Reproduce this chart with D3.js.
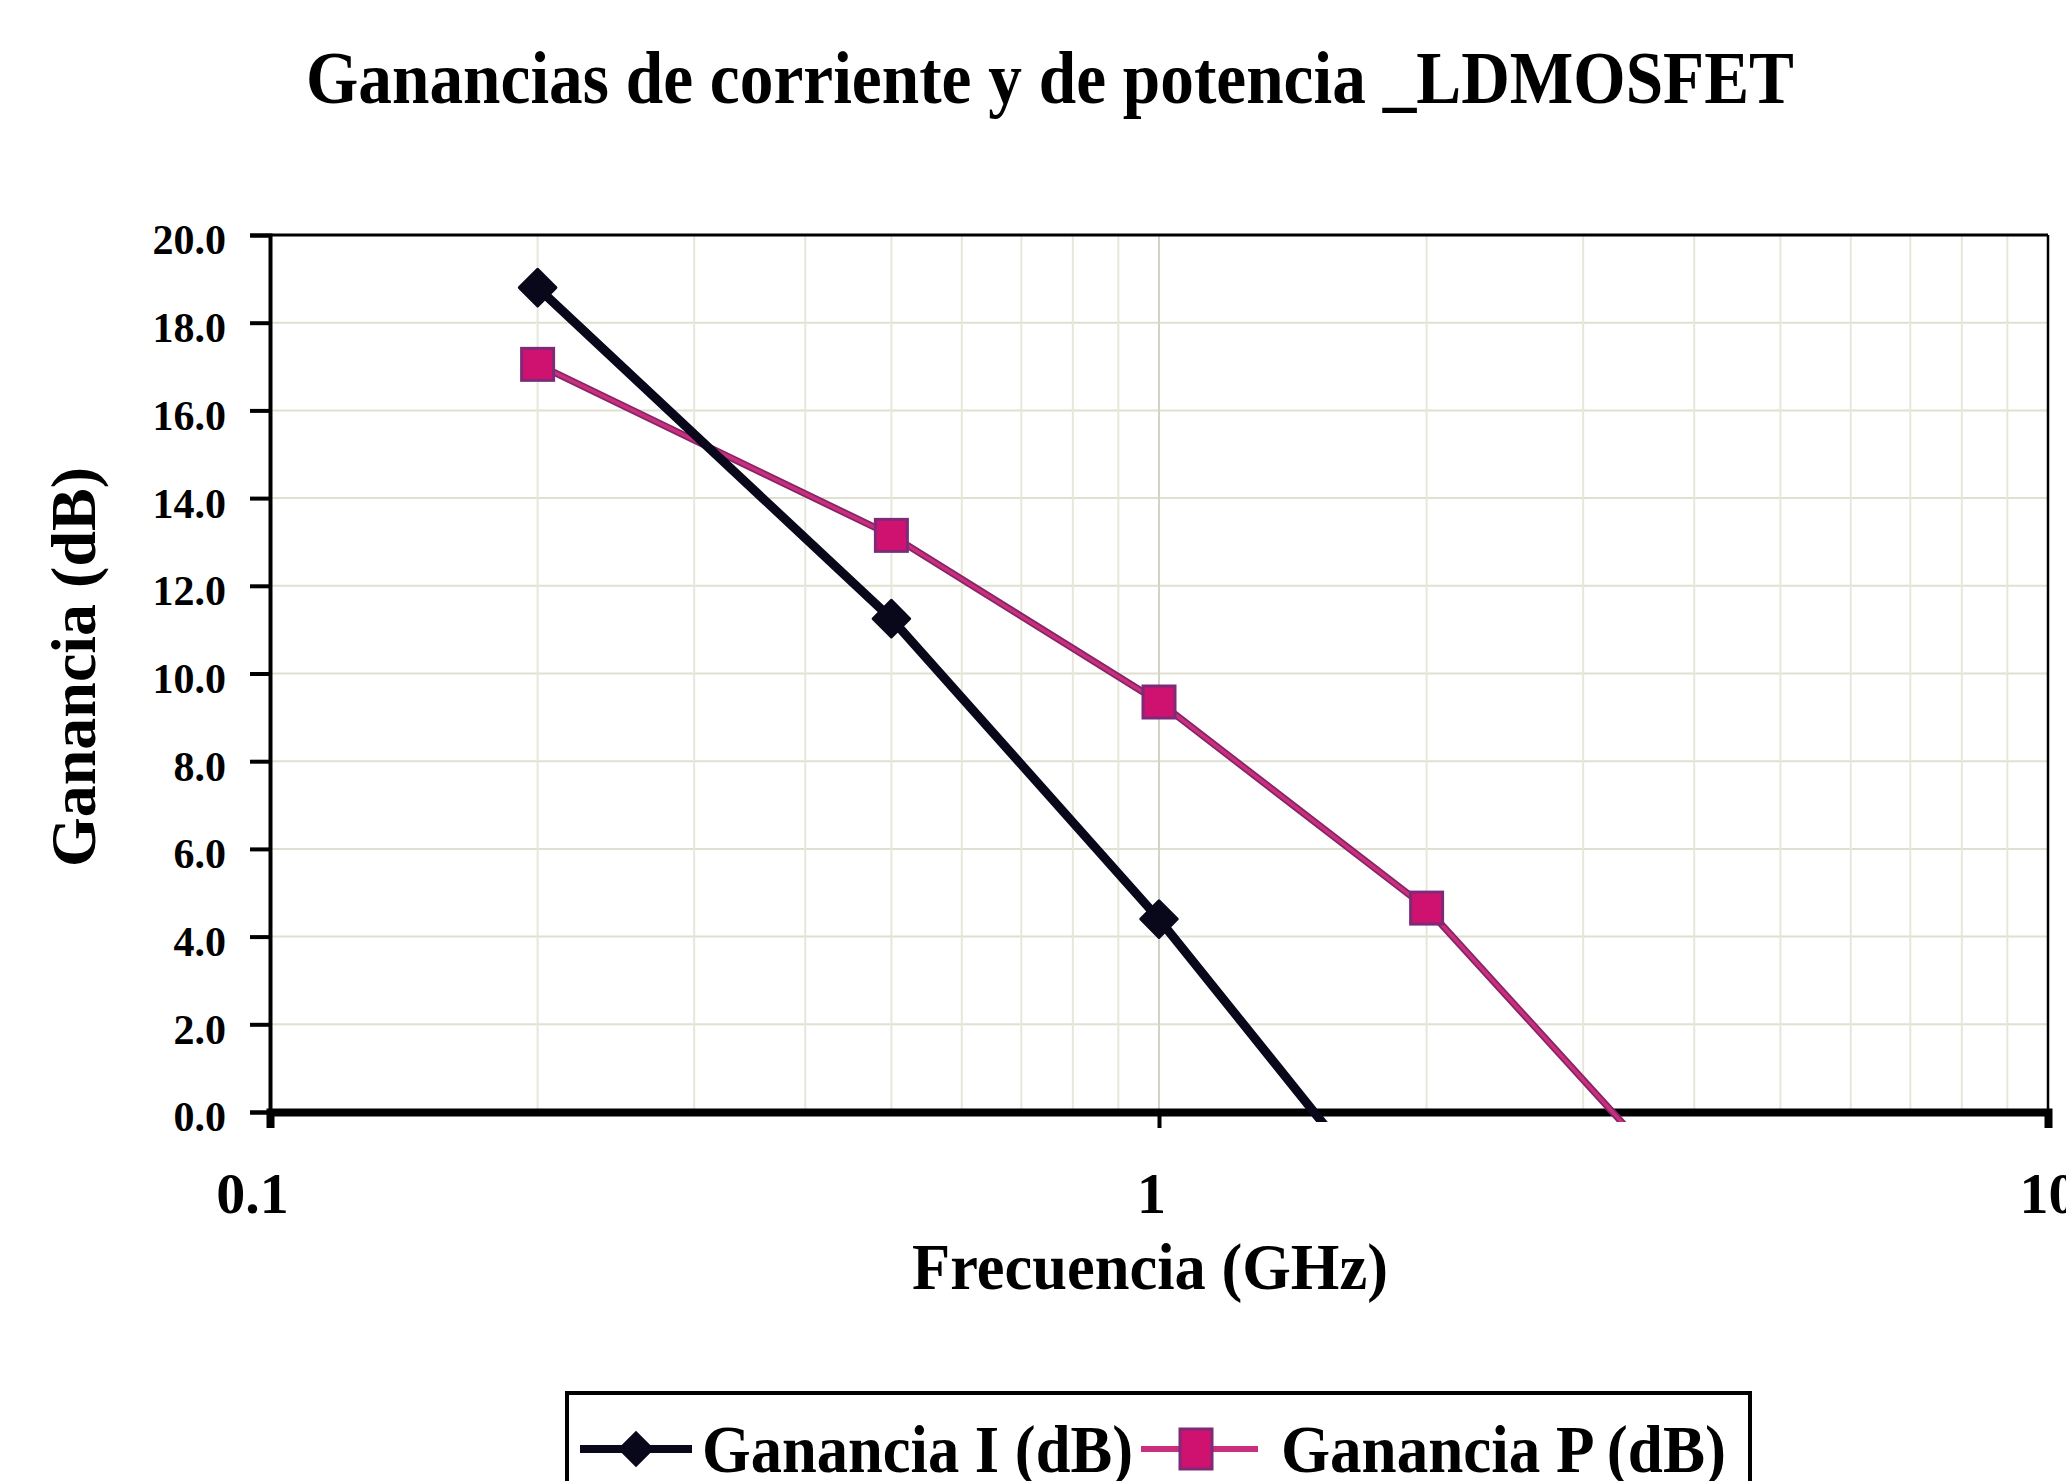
<!DOCTYPE html>
<html>
<head>
<meta charset="utf-8">
<script src="https://cdn.jsdelivr.net/npm/d3@7"></script>
<style>
  html, body { margin: 0; padding: 0; background: #ffffff; }
  svg { display: block; }
  text { font-family: "Liberation Serif", "Times New Roman", serif; font-weight: bold; fill: #000; }
</style>
</head>
<body>
<script>
// ---------- data ----------
const chartTitle = "Ganancias de corriente y de potencia _LDMOSFET";
const xTitle = "Frecuencia (GHz)";
const yTitle = "Ganancia (dB)";
const seriesNames = ["Ganancia I (dB)", "Ganancia P (dB)"];
const freqI = [0.2, 0.5, 1, 2];
const gainI = [18.8, 11.25, 4.4, -3.2];
const freqP = [0.2, 0.5, 1, 2, 5];
const gainP = [17.05, 13.15, 9.35, 4.65, -4.2];
const yTicks = [0, 2, 4, 6, 8, 10, 12, 14, 16, 18, 20];
const xTicks = [0.1, 1, 10];
const xTickLabels = ["0.1", "1", "10"];
const xMinor = [0.2, 0.3, 0.4, 0.5, 0.6, 0.7, 0.8, 0.9, 2, 3, 4, 5, 6, 7, 8, 9];

// ---------- layout ----------
const W = 2066, H = 1481;
const pL = 270, pR = 2048, pT = 235, pB = 1112;

const svg = d3.select("body").append("svg").attr("width", W).attr("height", H);

const x = d3.scaleLog().domain([0.1, 10]).range([pL, pR]);
const y = d3.scaleLinear().domain([0, 20]).range([pB, pT]);

// title
svg.append("text")
  .attr("x", 1050).attr("y", 103)
  .attr("text-anchor", "middle")
  .attr("font-size", 74)
  .attr("textLength", 1488).attr("lengthAdjust", "spacingAndGlyphs")
  .text(chartTitle);

// gridlines
const grid = svg.append("g");
grid.selectAll("line.h").data(yTicks.filter(d => d > 0 && d < 20)).enter().append("line")
  .attr("x1", pL).attr("x2", pR)
  .attr("y1", d => y(d)).attr("y2", d => y(d))
  .attr("stroke", "#dfe0d0").attr("stroke-width", 2);
grid.selectAll("line.v").data(xMinor).enter().append("line")
  .attr("x1", d => x(d)).attr("x2", d => x(d))
  .attr("y1", pT).attr("y2", pB)
  .attr("stroke", "#e6e7da").attr("stroke-width", 2);
grid.append("line")
  .attr("x1", x(1)).attr("x2", x(1)).attr("y1", pT).attr("y2", pB)
  .attr("stroke", "#d2d3c4").attr("stroke-width", 2);

// plot border (top/right)
svg.append("line").attr("x1", pL).attr("x2", pR).attr("y1", pT).attr("y2", pT)
  .attr("stroke", "#000").attr("stroke-width", 3);
svg.append("line").attr("x1", pR).attr("x2", pR).attr("y1", pT).attr("y2", pB)
  .attr("stroke", "#000").attr("stroke-width", 2.5);

// y axis
const yAxis = d3.axisLeft(y).tickValues(yTicks).tickFormat(d3.format(".1f")).tickSize(20).tickPadding(24);
const gy = svg.append("g").attr("transform", `translate(${pL},0)`).call(yAxis);
gy.select(".domain").attr("stroke", "#000").attr("stroke-width", 4);
gy.selectAll(".tick line").attr("stroke", "#000").attr("stroke-width", 4);
gy.selectAll(".tick text")
  .attr("font-family", "Liberation Serif").attr("font-weight", "bold")
  .attr("font-size", 42).attr("fill", "#000").attr("dy", "0.45em");

// x axis at y=0
const xAxis = d3.axisBottom(x).tickValues(xTicks).tickFormat((d, i) => xTickLabels[i]).tickSize(16).tickPadding(44);
const gx = svg.append("g").attr("transform", `translate(0,${y(0)})`).call(xAxis);
gx.select(".domain").attr("stroke", "#000").attr("stroke-width", 8);
gx.selectAll(".tick line").attr("stroke", "#000").attr("stroke-width", 4);
gx.selectAll(".tick text")
  .attr("font-family", "Liberation Serif").attr("font-weight", "bold")
  .attr("font-size", 58).attr("fill", "#000")
  .attr("dx", (d, i) => i === 0 ? -18 : (i === 1 ? -8 : 0));

// axis titles
svg.append("text")
  .attr("x", 1150).attr("y", 1289)
  .attr("text-anchor", "middle").attr("font-size", 66)
  .attr("textLength", 476).attr("lengthAdjust", "spacingAndGlyphs")
  .text(xTitle);
svg.append("text")
  .attr("transform", "translate(95,667) rotate(-90)")
  .attr("text-anchor", "middle").attr("font-size", 64)
  .attr("textLength", 400).attr("lengthAdjust", "spacingAndGlyphs")
  .text(yTitle);

// clip for series
svg.append("clipPath").attr("id", "plotclip").append("rect")
  .attr("x", pL).attr("y", pT).attr("width", pR - pL).attr("height", pB - pT + 10);

const line = d3.line().x(d => x(d[0])).y(d => y(d[1]));
const dataI = freqI.map((f, i) => [f, gainI[i]]);
const dataP = freqP.map((f, i) => [f, gainP[i]]);

const plot = svg.append("g").attr("clip-path", "url(#plotclip)");
const colI = "#08081a";
const colP = "#c8307e";

plot.append("path").datum(dataP).attr("d", line)
  .attr("fill", "none").attr("stroke", "#862466").attr("stroke-width", 7);
plot.append("path").datum(dataP).attr("d", line)
  .attr("fill", "none").attr("stroke", colP).attr("stroke-width", 3.5);
plot.append("path").datum(dataI).attr("d", line)
  .attr("fill", "none").attr("stroke", colI).attr("stroke-width", 9);

const sq = 32;
plot.selectAll("rect.mp").data(dataP.filter(d => d[1] >= 0)).enter().append("rect")
  .attr("x", d => x(d[0]) - sq / 2).attr("y", d => y(d[1]) - sq / 2)
  .attr("width", sq).attr("height", sq)
  .attr("fill", "#cf1270").attr("stroke", "#7e2a78").attr("stroke-width", 3);
const diamond = d3.symbol().type(d3.symbolDiamond2).size(850);
plot.selectAll("path.mi").data(dataI.filter(d => d[1] >= 0)).enter().append("path")
  .attr("transform", d => `translate(${x(d[0])},${y(d[1])})`)
  .attr("d", diamond).attr("fill", colI).attr("stroke", colI).attr("stroke-width", 3)
  .attr("stroke-linejoin", "round");

// legend
const lg = svg.append("g");
lg.append("rect").attr("x", 567).attr("y", 1393).attr("width", 1183).attr("height", 120)
  .attr("fill", "#fff").attr("stroke", "#000").attr("stroke-width", 4);
const ly = 1449;
lg.append("line").attr("x1", 580).attr("x2", 692).attr("y1", ly).attr("y2", ly)
  .attr("stroke", colI).attr("stroke-width", 8);
lg.append("path").attr("transform", `translate(636,${ly})`).attr("d", diamond).attr("fill", colI);
lg.append("text").attr("x", 702).attr("y", 1472).attr("font-size", 68)
  .attr("textLength", 431).attr("lengthAdjust", "spacingAndGlyphs").text(seriesNames[0]);
lg.append("line").attr("x1", 1141).attr("x2", 1258).attr("y1", ly).attr("y2", ly)
  .attr("stroke", colP).attr("stroke-width", 6);
lg.append("rect").attr("x", 1196 - sq / 2).attr("y", ly - sq / 2 - 4).attr("width", sq).attr("height", sq + 8)
  .attr("fill", "#cf1270").attr("stroke", "#7e2a78").attr("stroke-width", 3);
lg.append("text").attr("x", 1281).attr("y", 1472).attr("font-size", 68)
  .attr("textLength", 445).attr("lengthAdjust", "spacingAndGlyphs").text(seriesNames[1]);
</script>
</body>
</html>
